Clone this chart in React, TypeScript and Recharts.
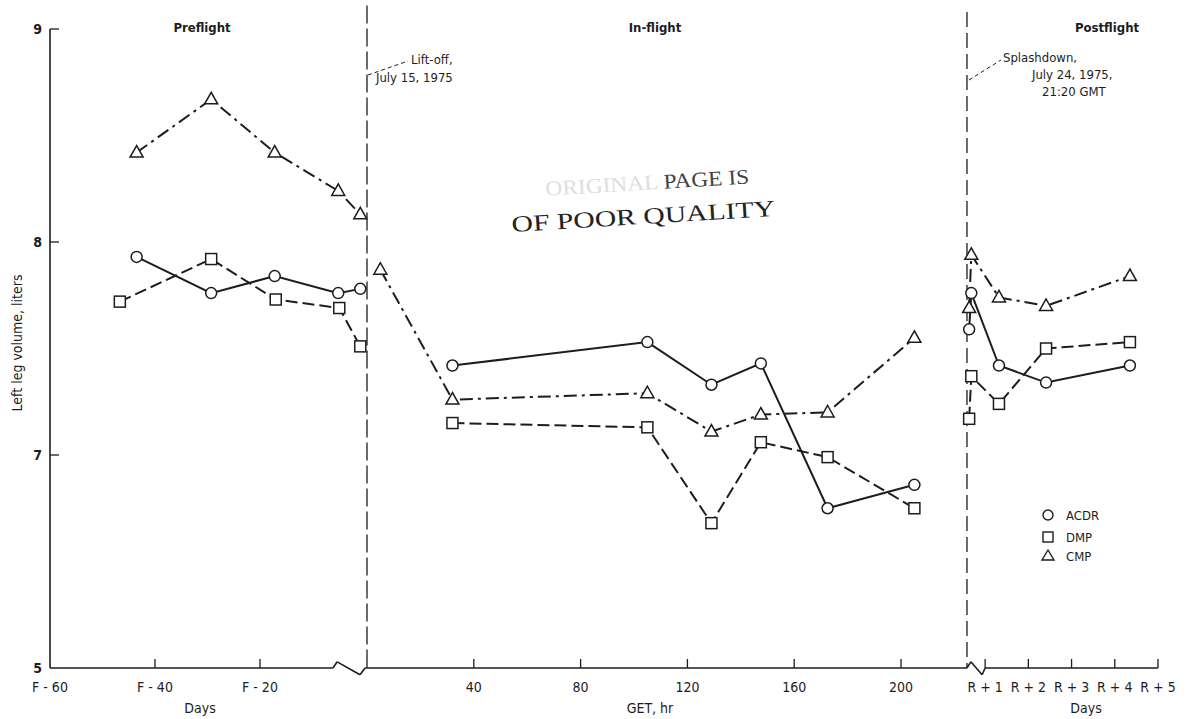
import { LineChart, Line, XAxis, YAxis, ReferenceLine } from 'recharts'

const INK = '#1d1d1d'
const FONT = "'DejaVu Sans Condensed', 'Liberation Sans Narrow', 'Liberation Sans', sans-serif"

// Preflight, days relative to launch (F - n)
const preAcdrDays = [-43.5, -29.3, -17.2, -5.1, -0.9]
const preAcdr = [7.93, 7.76, 7.84, 7.76, 7.78]
const preDmpDays = [-46.7, -29.3, -17.0, -4.9, -0.9]
const preDmp = [7.72, 7.92, 7.73, 7.69, 7.51]
const preCmpDays = [-43.5, -29.3, -17.2, -5.1, -0.9]
const preCmp = [8.42, 8.67, 8.42, 8.24, 8.13]

// In-flight, ground elapsed time in hours
const flightHr = [32, 105, 129, 147.5, 172.5, 205]
const flightAcdr = [7.42, 7.53, 7.33, 7.43, 6.75, 6.86]
const flightDmp = [7.15, 7.13, 6.68, 7.06, 6.99, 6.75]
const flightCmpHr = [5, 32, 105, 129, 147.5, 172.5, 205]
const flightCmp = [7.87, 7.26, 7.29, 7.11, 7.19, 7.2, 7.55]

// Postflight, days after recovery (R + n)
const postDays = [0.63, 0.68, 1.32, 2.41, 4.35]
const postAcdr = [7.59, 7.76, 7.42, 7.34, 7.42]
const postDmp = [7.17, 7.37, 7.24, 7.5, 7.53]
const postCmp = [7.69, 7.94, 7.74, 7.7, 7.84]

// axis ticks
const preTicks = [-60, -40, -20]
const flightTicks = [40, 80, 120, 160, 200]
const postTicks = [1, 2, 3, 4, 5]
const yTicks = [6, 7, 8, 9]
const yTickLabels = ['5', '7', '8', '9'] // bottom of the axis is broken

// the shared x axis runs 0..1; each phase gets its own stretch of it
type Seg = { lo: number; hi: number; from: number; to: number }
const PRE: Seg = { lo: -60, hi: 0.38, from: 0, to: 0.2861 }
const FLIGHT: Seg = { lo: 0, hi: 224.7, from: 0.2861, to: 0.8276 }
const POST: Seg = { lo: 0.58, hi: 5, from: 0.8276, to: 1 }

const toU = (s: Seg, v: number) => s.from + ((v - s.lo) / (s.hi - s.lo)) * (s.to - s.from)

type Row = { u: number; v: number | null }

function buildRows(
  preX: number[], preY: number[],
  flX: number[], flY: number[],
  poX: number[], poY: number[],
): Row[] {
  const rows: Row[] = []
  preX.forEach((d, i) => rows.push({ u: toU(PRE, d), v: preY[i] }))
  rows.push({ u: PRE.to, v: null })
  flX.forEach((h, i) => rows.push({ u: toU(FLIGHT, h), v: flY[i] }))
  rows.push({ u: FLIGHT.to, v: null })
  poX.forEach((d, i) => rows.push({ u: toU(POST, d), v: poY[i] }))
  return rows
}

const acdrRows = buildRows(preAcdrDays, preAcdr, flightHr, flightAcdr, postDays, postAcdr)
const dmpRows = buildRows(preDmpDays, preDmp, flightHr, flightDmp, postDays, postDmp)
const cmpRows = buildRows(preCmpDays, preCmp, flightCmpHr, flightCmp, postDays, postCmp)

const xTicks = [
  ...preTicks.map((d) => ({ u: toU(PRE, d), label: `F - ${-d}` })),
  ...flightTicks.map((h) => ({ u: toU(FLIGHT, h), label: String(h) })),
  ...postTicks.map((d) => ({ u: toU(POST, d), label: `R + ${d}` })),
]

// x axis line with the two zig-zag breaks
const BOT = 6
const Z = 0.029
const axisPath: [number, number][] = [
  [toU(PRE, -60), BOT],
  [toU(PRE, -6.1), BOT],
  [toU(PRE, -5.3), BOT + Z],
  [toU(PRE, -0.95), BOT - Z * 1.1],
  [toU(PRE, 0), BOT],
  [toU(FLIGHT, 224.7), BOT],
  [toU(POST, 0.67), BOT + Z],
  [toU(POST, 0.93), BOT - Z * 1.1],
  [toU(POST, 1), BOT],
  [toU(POST, 5), BOT],
]

const XTick = (p: any) => {
  const t = xTicks.find((k) => Math.abs(k.u - p.payload.value) < 1e-9)
  return (
    <g>
      {p.payload.value > 0.001 && (
        <line x1={p.x} x2={p.x} y1={p.y} y2={p.y - 9} stroke={INK} strokeWidth={1.3} />
      )}
      <text x={p.x} y={p.y + 24} textAnchor="middle" fontFamily={FONT} fontSize={14} fill={INK}>
        {t ? t.label : ''}
      </text>
    </g>
  )
}

const YTick = (p: any) => {
  const i = yTicks.indexOf(p.payload.value)
  return (
    <g>
      {i > 0 && <line x1={p.x} x2={p.x + 9} y1={p.y} y2={p.y} stroke={INK} strokeWidth={1.3} />}
      <text x={p.x - 8} y={p.y + 5} textAnchor="end" fontFamily={FONT} fontSize={14} fontWeight="bold" fill={INK}>
        {yTickLabels[i]}
      </text>
    </g>
  )
}

const CircleDot = (p: any) =>
  p.cy == null ? <g key={p.index} /> : (
    <circle key={p.index} cx={p.cx} cy={p.cy} r={5.5} fill="#fff" stroke={INK} strokeWidth={1.5} />
  )

const SquareDot = (p: any) =>
  p.cy == null ? <g key={p.index} /> : (
    <rect key={p.index} x={p.cx - 5.5} y={p.cy - 5.5} width={11} height={11} fill="#fff" stroke={INK} strokeWidth={1.5} />
  )

const TriangleDot = (p: any) =>
  p.cy == null ? <g key={p.index} /> : (
    <polygon
      key={p.index}
      points={`${p.cx},${p.cy - 7} ${p.cx - 6.5},${p.cy + 4.5} ${p.cx + 6.5},${p.cy + 4.5}`}
      fill="#fff"
      stroke={INK}
      strokeWidth={1.5}
    />
  )

const txt = { fontFamily: FONT, fill: INK } as const

export default function App() {
  return (
    <div style={{ position: 'absolute', left: 0, top: 0, width: 1188, height: 719, background: '#fff' }}>
      <LineChart width={1188} height={719} margin={{ top: 29, right: 30, bottom: 21, left: 0 }}>
        <XAxis
          type="number"
          dataKey="u"
          domain={[0, 1]}
          ticks={xTicks.map((t) => t.u)}
          interval={0}
          tick={XTick}
          tickSize={0}
          tickMargin={0}
          axisLine={false}
          tickLine={false}
          height={30}
          allowDataOverflow
        />
        <YAxis
          type="number"
          domain={[6, 9]}
          ticks={yTicks}
          interval={0}
          tick={YTick}
          tickSize={0}
          tickMargin={0}
          tickLine={false}
          axisLine={{ stroke: INK, strokeWidth: 1.6 }}
          width={50}
          allowDataOverflow
        />
        {axisPath.slice(1).map((pt, i) => (
          <ReferenceLine
            key={`ax${i}`}
            segment={[
              { x: axisPath[i][0], y: axisPath[i][1] },
              { x: pt[0], y: pt[1] },
            ]}
            stroke={INK}
            strokeWidth={1.6}
            ifOverflow="visible"
          />
        ))}
        <ReferenceLine
          segment={[{ x: PRE.to, y: 9.11 }, { x: PRE.to, y: 6 }]}
          stroke={INK}
          strokeWidth={1.3}
          strokeDasharray="18 5"
          ifOverflow="visible"
        />
        <ReferenceLine
          segment={[{ x: FLIGHT.to, y: 9.08 }, { x: FLIGHT.to, y: 6 }]}
          stroke={INK}
          strokeWidth={1.3}
          strokeDasharray="15 6"
          ifOverflow="visible"
        />
        <Line
          data={acdrRows}
          dataKey="v"
          name="ACDR"
          stroke={INK}
          strokeWidth={2}
          dot={CircleDot}
          connectNulls={false}
          isAnimationActive={false}
        />
        <Line
          data={dmpRows}
          dataKey="v"
          name="DMP"
          stroke={INK}
          strokeWidth={2}
          strokeDasharray="12 5"
          dot={SquareDot}
          connectNulls={false}
          isAnimationActive={false}
        />
        <Line
          data={cmpRows}
          dataKey="v"
          name="CMP"
          stroke={INK}
          strokeWidth={2}
          strokeDasharray="13 5 3 5"
          dot={TriangleDot}
          connectNulls={false}
          isAnimationActive={false}
        />
      </LineChart>

      <svg width={1188} height={719} style={{ position: 'absolute', left: 0, top: 0, pointerEvents: 'none' }}>
        {/* phase headings */}
        <text x={202} y={32} textAnchor="middle" fontSize={13} fontWeight="bold" {...txt}>Preflight</text>
        <text x={655} y={32} textAnchor="middle" fontSize={13} fontWeight="bold" {...txt}>In-flight</text>
        <text x={1107} y={32} textAnchor="middle" fontSize={13} fontWeight="bold" {...txt}>Postflight</text>

        {/* axis titles */}
        <text x={200} y={713} textAnchor="middle" fontSize={14} {...txt}>Days</text>
        <text x={650} y={713} textAnchor="middle" fontSize={14} {...txt}>GET, hr</text>
        <text x={1086} y={713} textAnchor="middle" fontSize={14} {...txt}>Days</text>
        <text
          x={22}
          y={343}
          textAnchor="middle"
          fontSize={14}
          transform="rotate(-90 22 343)"
          {...txt}
        >
          Left leg volume, liters
        </text>

        {/* event notes */}
        <line x1={368} y1={75} x2={408} y2={61} stroke={INK} strokeWidth={1} strokeDasharray="4 3" />
        <text x={411} y={64} fontSize={13} {...txt}>Lift-off,</text>
        <text x={376} y={82} fontSize={13} {...txt}>July 15, 1975</text>

        <line x1={969} y1={80} x2={1001} y2={60} stroke={INK} strokeWidth={1} strokeDasharray="4 3" />
        <text x={1003} y={62} fontSize={13} {...txt}>Splashdown,</text>
        <text x={1032} y={79} fontSize={13} {...txt}>July 24, 1975,</text>
        <text x={1042} y={96} fontSize={13} {...txt}>21:20 GMT</text>

        {/* archive stamp */}
        <g transform="rotate(-3.5 512 232)">
          <text x={548} y={198} fontSize={21} fontFamily="'Liberation Serif', serif" textLength={204} lengthAdjust="spacingAndGlyphs">
            <tspan fill="#dedede">ORIGINAL </tspan>
            <tspan fill="#444">PAGE IS</tspan>
          </text>
          <text x={512} y={232} fontSize={23} fontFamily="'Liberation Serif', serif" fill="#222" textLength={264} lengthAdjust="spacingAndGlyphs">
            OF POOR QUALITY
          </text>
        </g>

        {/* legend */}
        <circle cx={1048} cy={515} r={5} fill="#fff" stroke={INK} strokeWidth={1.4} />
        <text x={1066} y={520} fontSize={13} {...txt}>ACDR</text>
        <rect x={1043} y={532} width={10} height={10} fill="#fff" stroke={INK} strokeWidth={1.4} />
        <text x={1066} y={542} fontSize={13} {...txt}>DMP</text>
        <polygon points="1048,550 1042,560 1054,560" fill="#fff" stroke={INK} strokeWidth={1.4} />
        <text x={1066} y={561} fontSize={13} {...txt}>CMP</text>
      </svg>
    </div>
  )
}
